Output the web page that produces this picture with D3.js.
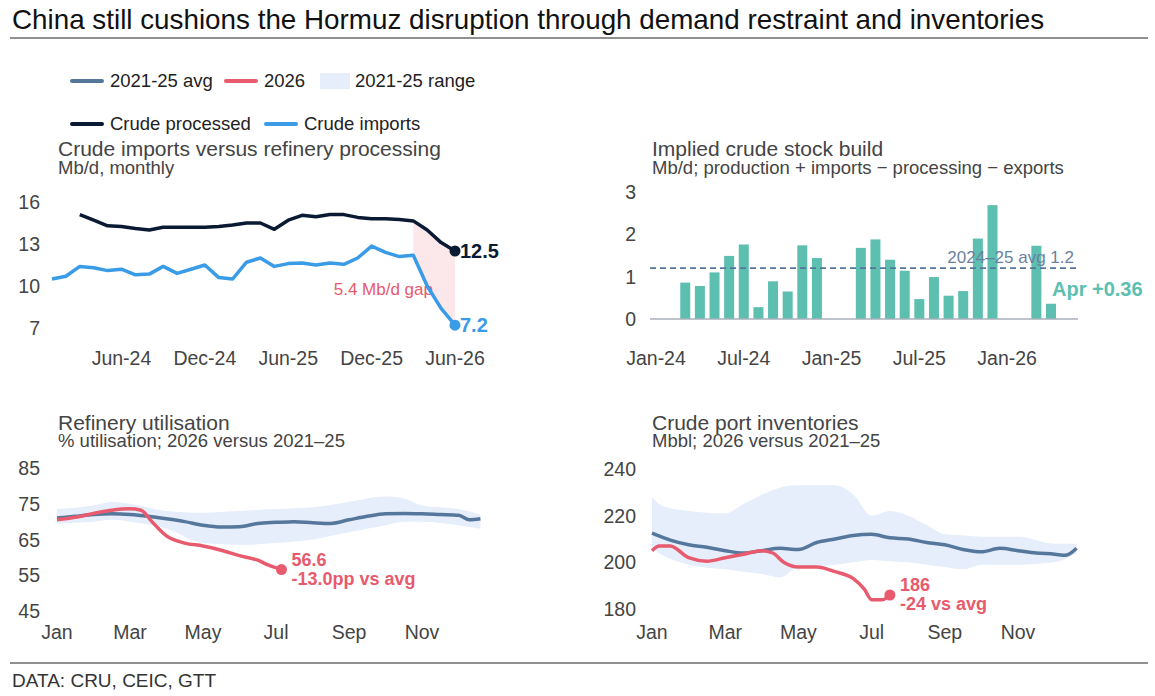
<!DOCTYPE html>
<html><head><meta charset="utf-8">
<script src="https://cdn.jsdelivr.net/npm/d3@7"></script>
<style>body{margin:0;background:#fff}svg{font-family:"Liberation Sans",Arial,sans-serif}</style>
</head><body>
<svg id="c" width="1155" height="696"></svg>
<script>
// ---- data ----
var tlLabels = ["Jun-24", "Dec-24", "Jun-25", "Dec-25", "Jun-26"]; // monthly Jan-24..Jun-26
var imports = [10.5,10.7,11.4,11.3,11.1,11.2,10.8,10.85,11.4,10.9,11.2,11.5,10.6,10.5,11.7,12.0,11.4,11.6,11.65,11.5,11.65,11.55,12.0,12.85,12.4,12.1,12.2,10.0,8.4,7.2];
var processed = [null,null,15.1,14.7,14.3,14.25,14.1,14.0,14.2,14.2,14.2,14.2,14.25,14.35,14.5,14.5,14.05,14.7,15.05,14.95,15.1,15.1,14.9,14.8,14.8,14.75,14.65,14.0,13.1,12.5];

var trLabels = ["Jan-24", "Jul-24", "Jan-25", "Jul-25", "Jan-26"]; // monthly Jan-24..Apr-26
var stockBuild = [null,null,0.86,0.78,1.1,1.49,1.76,0.28,0.89,0.65,1.74,1.44,null,null,1.68,1.88,1.4,1.14,0.47,0.99,0.55,0.66,1.9,2.69,null,null,1.73,0.36];
var stockAvg = 1.2;

var monthLabels = ["Jan", "Mar", "May", "Jul", "Sep", "Nov"];
// month position (0 = start Jan)
var utilAvgM = [0,0.5,1,1.5,2,2.5,3,3.5,4,4.5,5,5.5,6,6.5,7,7.5,8,8.5,9,9.5,10,10.5,11,11.3,11.6];
var utilAvg = [71,71.5,72,72.2,72,71.5,70.8,70,69,68.5,68.6,69.5,69.8,70,69.7,69.5,70.5,71.5,72.2,72.3,72.2,72,71.8,70.5,70.8];
var utilRangeM = [0,1,1.5,2,3,4,5,6,7,8,9,9.5,10,11,11.6];
var utilLow = [69.5,70,70.5,70,68,64,63.5,64,65,67,69,70,70,69,68];
var utilHigh = [73.5,74.5,75.5,75,73,72.5,73,73.5,74,75.5,77,76.5,74.5,73.5,72];
var util26M = [0,0.5,1,1.5,2,2.3,2.6,3,3.5,4,4.5,5,5.5,5.8,6.15];
var util26 = [70.5,71.2,72.3,73.2,73.6,73.2,70,66,64,63.2,62,60.5,59.2,57.8,56.6];

var invAvgM = [0,0.5,1,1.5,2,2.5,3,3.5,4,4.5,5,5.5,6,6.5,7,7.5,8,8.5,9,9.5,10,10.5,11,11.3,11.6];
var invAvg = [212.5,209.5,207.5,206.5,205,204,205,206,205.5,208.5,210,211.5,212,210.5,210,208.5,207.5,205.5,204.5,206,205,204,203.5,203,206];
var invRangeM = [0,0.3,1,2,2.5,3,3.5,4,5,5.5,6,6.5,7,7.5,8,8.5,9,10,11,11.6];
var invHigh = [228,224,222,221,225,229,232,233,233,229,220,222,220,216,212,211.5,211,211,208,208];
var invLow = [206,203,199,197,196,195,193.5,198,199,200,201,200.5,200,199,198,197,199,199,200,204];
var inv26M = [0,0.2,0.5,1,1.5,2,2.5,3,3.3,3.6,4,4.5,5,5.5,5.8,6,6.3,6.5];
var inv26 = [205,207,207,202,200.5,202,203.5,205,204,200,198,198,196,193,188.5,184,184,186];

// ---- styles ----
var cAvg = "#55779b", c26 = "#e85a6d", cRange = "#e5eefa", cProc = "#0b1a33", cImp = "#3a9be6", cBar = "#5cbfb0";
var txt = "#444";
var svg = d3.select("#c");

function t(x, y, s, size, col, opts) {
  var e = svg.append("text").attr("x", x).attr("y", y).text(s).attr("font-size", size).attr("fill", col || txt);
  if (opts) Object.keys(opts).forEach(function(k){ e.attr(k, opts[k]); });
  return e;
}

// title, rules, source
t(12, 29, "China still cushions the Hormuz disruption through demand restraint and inventories", 27.8, "#111");
svg.append("line").attr("x1", 10).attr("x2", 1148).attr("y1", 38).attr("y2", 38).attr("stroke", "#222");
svg.append("line").attr("x1", 10).attr("x2", 1148).attr("y1", 663).attr("y2", 663).attr("stroke", "#222");
t(12, 687, "DATA: CRU, CEIC, GTT", 19, "#333");

// legends
function legLine(x, y, col, label) {
  svg.append("line").attr("x1", x).attr("x2", x + 30).attr("y1", y).attr("y2", y).attr("stroke", col).attr("stroke-width", 4).attr("stroke-linecap", "round");
  t(x + 38, y + 6, label, 18.5, "#222");
}
legLine(72, 81, cAvg, "2021-25 avg");
legLine(226, 81, c26, "2026");
svg.append("rect").attr("x", 320).attr("y", 73).attr("width", 30).attr("height", 16).attr("fill", cRange);
t(355, 87, "2021-25 range", 18.5, "#222");
legLine(72, 124, cProc, "Crude processed");
legLine(266, 124, cImp, "Crude imports");

// ---- top left ----
t(58, 156, "Crude imports versus refinery processing", 21);
t(58, 174, "Mb/d, monthly", 18.5);
var xTL = d3.scaleLinear().domain([0, 29]).range([52, 455]);
var yTL = d3.scaleLinear().domain([7, 16]).range([328, 202]);
[16, 13, 10, 7].forEach(function(v){ t(40, yTL(v) + 7, v, 19.5, txt, {"text-anchor": "end"}); });
tlLabels.forEach(function(s, i){ t(xTL(5 + i * 6), 365, s, 19.5, txt, {"text-anchor": "middle"}); });
var gapIdx = d3.range(26, 30);
svg.append("path").attr("fill", "#fbe3e6").attr("opacity", 0.85)
  .attr("d", d3.area().x(function(i){ return xTL(i); }).y0(function(i){ return yTL(imports[i]); }).y1(function(i){ return yTL(processed[i]); })(gapIdx));
t(433, 295, "5.4 Mb/d gap", 17, c26, {"text-anchor": "end"});
var lineTL = function(arr){ return d3.line().defined(function(d){ return d != null; }).x(function(d, i){ return xTL(i); }).y(function(d){ return yTL(d); })(arr); };
svg.append("path").attr("d", lineTL(processed)).attr("fill", "none").attr("stroke", cProc).attr("stroke-width", 3.5).attr("stroke-linejoin", "round");
svg.append("path").attr("d", lineTL(imports)).attr("fill", "none").attr("stroke", cImp).attr("stroke-width", 3.5).attr("stroke-linejoin", "round");
svg.append("circle").attr("cx", xTL(29)).attr("cy", yTL(12.5)).attr("r", 5.5).attr("fill", cProc);
svg.append("circle").attr("cx", xTL(29)).attr("cy", yTL(7.2)).attr("r", 5.5).attr("fill", cImp);
t(xTL(29) + 5, yTL(12.5) + 7, "12.5", 20, cProc, {"font-weight": "bold"});
t(xTL(29) + 5, yTL(7.2) + 7, "7.2", 20, cImp, {"font-weight": "bold"});

// ---- top right ----
t(652, 156, "Implied crude stock build", 21);
t(652, 174, "Mb/d; production + imports \u2212 processing \u2212 exports", 18.5);
var xTR = d3.scaleLinear().domain([0, 27]).range([656, 1051]);
var yTR = d3.scaleLinear().domain([0, 3]).range([319, 192]);
[0, 1, 2, 3].forEach(function(v){ t(636, yTR(v) + 7, v, 19.5, txt, {"text-anchor": "end"}); });
trLabels.forEach(function(s, i){ t(xTR(i * 6), 365, s, 19.5, txt, {"text-anchor": "middle"}); });
svg.selectAll(".bar").data(stockBuild.map(function(v, i){ return {i: i, v: v}; }).filter(function(d){ return d.v != null; }))
  .enter().append("rect")
  .attr("x", function(d){ return xTR(d.i) - 5; })
  .attr("y", function(d){ return yTR(d.v); }).attr("width", 10)
  .attr("height", function(d){ return yTR(0) - yTR(d.v); }).attr("fill", cBar);
svg.append("line").attr("x1", 650).attr("x2", 1078).attr("y1", yTR(0)).attr("y2", yTR(0)).attr("stroke", "#a8b0ba").attr("stroke-width", 1.5);
svg.append("line").attr("x1", 650).attr("x2", 1078).attr("y1", yTR(stockAvg)).attr("y2", yTR(stockAvg)).attr("stroke", cAvg).attr("stroke-width", 1.8).attr("stroke-dasharray", "6,4");
t(1074, yTR(stockAvg) - 5, "2024\u201325 avg 1.2", 17, "#6a829e", {"text-anchor": "end"});
t(1052, 296, "Apr +0.36", 20, cBar, {"font-weight": "bold"});

// ---- bottom panels ----
function seasonal(opt) {
  t(opt.x0, 430, opt.title, 21);
  t(opt.x0, 447, opt.sub, 18.5);
  var x = d3.scaleLinear().domain([0, 10]).range([opt.xJan, opt.xNov]);
  var y = d3.scaleLinear().domain(opt.yDom).range(opt.yRange);
  opt.ticks.forEach(function(v){ t(opt.tickX, y(v) + 7, v, 19.5, txt, {"text-anchor": "end"}); });
  monthLabels.forEach(function(s, i){ t(x(i * 2), 639, s, 19.5, txt, {"text-anchor": "middle"}); });
  var curve = d3.curveMonotoneX;
  svg.append("path").attr("fill", cRange).attr("d", d3.area().curve(curve)
    .x(function(d, i){ return x(opt.rM[i]); }).y0(function(d, i){ return y(opt.low[i]); }).y1(function(d){ return y(d); })(opt.high));
  svg.append("path").attr("fill", "none").attr("stroke", cAvg).attr("stroke-width", 3.5).attr("d", d3.line().curve(curve)
    .x(function(d, i){ return x(opt.aM[i]); }).y(function(d){ return y(d); })(opt.avg));
  svg.append("path").attr("fill", "none").attr("stroke", c26).attr("stroke-width", 3.5).attr("d", d3.line().curve(curve)
    .x(function(d, i){ return x(opt.nM[i]); }).y(function(d){ return y(d); })(opt.now));
  var lx = x(opt.nM[opt.nM.length - 1]), ly = y(opt.now[opt.now.length - 1]);
  svg.append("circle").attr("cx", lx).attr("cy", ly).attr("r", 5.5).attr("fill", c26);
  t(lx + 10, ly - 4, opt.lab1, 18, c26, {"font-weight": "bold"});
  t(lx + 10, ly + 15, opt.lab2, 18, c26, {"font-weight": "bold"});
}
seasonal({x0: 58, title: "Refinery utilisation", sub: "% utilisation; 2026 versus 2021\u201325",
  xJan: 57, xNov: 422, yDom: [45, 85], yRange: [611, 468], ticks: [85, 75, 65, 55, 45], tickX: 40,
  rM: utilRangeM, low: utilLow, high: utilHigh, aM: utilAvgM, avg: utilAvg, nM: util26M, now: util26,
  lab1: "56.6", lab2: "-13.0pp vs avg"});
seasonal({x0: 652, title: "Crude port inventories", sub: "Mbbl; 2026 versus 2021\u201325",
  xJan: 652, xNov: 1018, yDom: [180, 240], yRange: [609, 469], ticks: [240, 220, 200, 180], tickX: 636,
  rM: invRangeM, low: invLow, high: invHigh, aM: invAvgM, avg: invAvg, nM: inv26M, now: inv26,
  lab1: "186", lab2: "-24 vs avg"});
</script>
</body></html>
